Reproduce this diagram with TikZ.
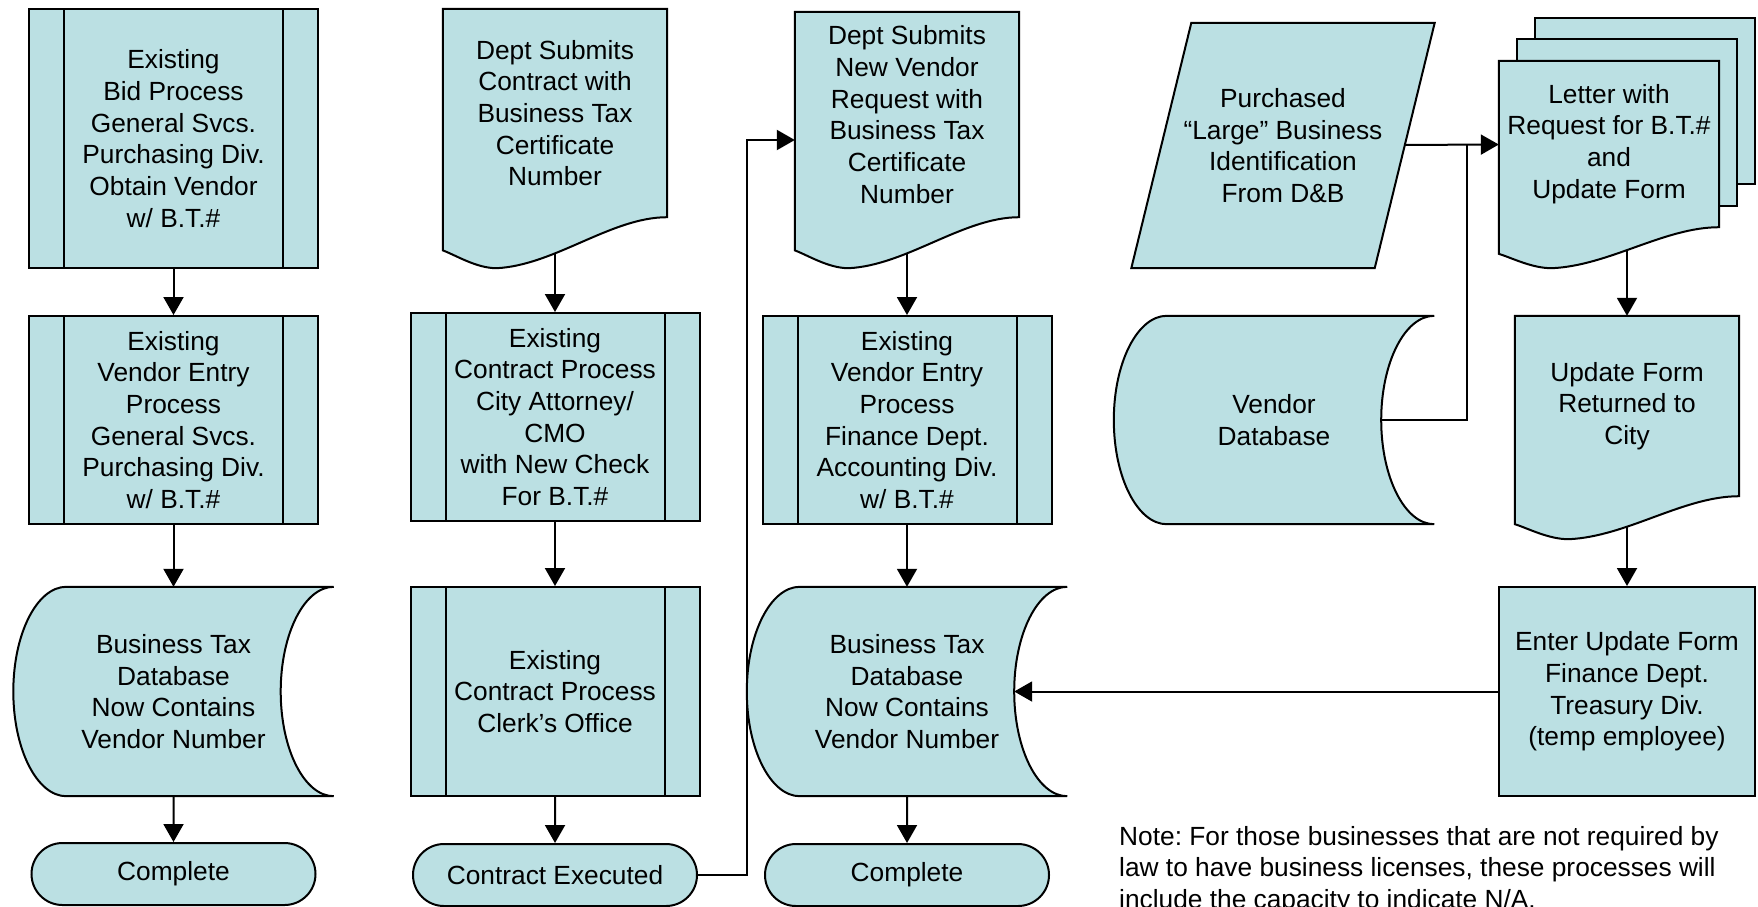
\documentclass[tikz,border=0pt]{standalone}
\usepackage{fontspec}
\setmainfont{Liberation Sans}
\usetikzlibrary{calc,shapes.misc,arrows.meta}
\definecolor{flowfill}{RGB}{187,224,227}
\pgfdeclarelayer{wires}
\pgfdeclarelayer{shapes}
\pgfsetlayers{wires,shapes,main}

\begin{document}
\begin{tikzpicture}[x=1pt,y=-1pt,>={Triangle[width=20pt,length=18pt]}]
    \tikzstyle{every node}=[font=\fontsize{26.3}{31.7}\selectfont,align=center,inner sep=2]
    \tikzstyle{ghost}=[rectangle,draw=none,fill=none]
    \tikzstyle{doc}=[ghost,minimum width=224]
    \tikzstyle{store}=[ghost,minimum width=214]
    \tikzstyle{plain}=[rectangle,draw,fill=flowfill,line width=2pt,minimum width=256,minimum height=209]
    \tikzstyle{term}=[rounded rectangle,draw,fill=flowfill,line width=2pt,minimum width=288,minimum height=62]
    \tikzstyle{proc}=[rectangle,draw,fill=flowfill,line width=2pt,minimum width=289,minimum height=208,
        path picture={\draw[line width=2pt]
            ([xshift=35pt]path picture bounding box.north west) -- ([xshift=35pt]path picture bounding box.south west)
            ([xshift=-35pt]path picture bounding box.north east) -- ([xshift=-35pt]path picture bounding box.south east);}]
    \tikzstyle{note}=[ghost,align=left,inner sep=0,font=\fontsize{26.3}{31.7}\selectfont\frenchspacing]
    \tikzstyle{outline}=[draw,fill=flowfill,line width=2pt]
    \tikzstyle{wire}=[->,line width=2pt]

    \useasboundingbox (0,0) rectangle (1758,906);

    \node[proc,minimum height=259] (bid) at (173.5,138.5) {Existing\\Bid Process\\General Svcs.\\Purchasing Div.\\Obtain Vendor\\w/ B.T.\#};
    \node[proc] (gsentry) at (173.5,420) {Existing\\Vendor Entry\\Process\\General Svcs.\\Purchasing Div.\\w/ B.T.\#};
    \node[store,minimum height=209] (taxdb1) at (173.5,691.5) {Business Tax\\Database\\Now Contains\\Vendor Number};
    \node[term] (done1) at (173.5,874) {Complete};

    \node[doc,minimum height=208] (contract) at (555,113) {Dept Submits\\Contract with\\Business Tax\\Certificate\\Number};
    \node[proc] (attorney) at (555,417) {Existing\\Contract Process\\City Attorney/\\CMO\\with New Check\\For B.T.\#};
    \node[proc,minimum height=209] (clerk) at (555,691.5) {Existing\\Contract Process\\Clerk's Office};
    \node[term] (executed) at (555,875) {Contract Executed};

    \node[doc,minimum height=205] (request) at (907,114.5) {Dept Submits\\New Vendor\\Request with\\Business Tax\\Certificate\\Number};
    \node[proc] (faentry) at (907,420) {Existing\\Vendor Entry\\Process\\Finance Dept.\\Accounting Div.\\w/ B.T.\#};
    \node[store,minimum height=209] (taxdb2) at (907,691.5) {Business Tax\\Database\\Now Contains\\Vendor Number};
    \node[term] (done2) at (907,875) {Complete};

    \node[ghost,minimum width=243,minimum height=245] (dnb) at (1283,145.5) {Purchased\\“Large” Business\\Identification\\From D\&B};
    \node[doc,minimum width=220,minimum height=166] (letter) at (1609,144) {Letter with\\Request for B.T.\#\\and\\Update Form};
    \node[store,minimum height=208] (vendordb) at (1274,420) {Vendor\\Database};
    \node[doc,minimum height=180] (returned) at (1627,406) {Update Form\\Returned to\\City};
    \node[plain] (treasury) at (1627,691.5) {Enter Update Form\\Finance Dept.\\Treasury Div.\\(temp employee)};

    \node[note,anchor=north west] (remark) at (1119,826) {Note: For those businesses that are not required by\\law to have business licenses, these processes will\\include the capacity to indicate N/A.};

    \coordinate (merge) at ($(dnb.east)!0.66!(letter.west)$);
    \coordinate (riser) at (747,140);

    \begin{pgfonlayer}{shapes}
        % stored data
        \foreach \nm in {taxdb1,taxdb2,vendordb}
            \draw[outline] let \p1=($(\nm.north)-(\nm.south)$) in
                (\nm.north west) -- ($(\nm.north east)+(53,0)$)
                arc[start angle=90,end angle=270,x radius=53pt,y radius=0.5*\y1]
                -- (\nm.south west)
                arc[start angle=270,end angle=90,x radius=53pt,y radius=0.5*\y1] -- cycle;
        % data input
        \draw[outline] ($(dnb.north west)+(30,0)$) -- ($(dnb.north east)+(30,0)$)
            -- ($(dnb.south east)+(-30,0)$) -- ($(dnb.south west)+(-30,0)$) -- cycle;
        % sheets behind the letter
        \foreach \s in {2,1}
            \draw[outline] ($(letter.north west)+(18*\s,-21.5*\s)$) rectangle ($(letter.south east)+(18*\s,-21.5*\s)$);
        % documents
        \foreach \nm/\dep in {contract/51,request/51,letter/41,returned/43}
            \draw[outline] (\nm.north west) -- (\nm.north east) -- (\nm.south east)
                .. controls ($(\nm.south west)!0.75!(\nm.south east)$) and ($(\nm.south west)!0.5!(\nm.south east)+(0,0.94*\dep)$)
                .. ($(\nm.south west)!0.24!(\nm.south east)+(0,\dep)$)
                .. controls ($(\nm.south west)!0.15!(\nm.south east)+(0,\dep)$) and ($(\nm.south west)!0.06!(\nm.south east)+(0,0.75*\dep)$)
                .. ($(\nm.south west)+(0,0.65*\dep)$) -- cycle;
    \end{pgfonlayer}

    \begin{pgfonlayer}{wires}
        \path[wire]
            (bid) edge (gsentry) (gsentry) edge (taxdb1) (taxdb1) edge (done1)
            (contract) edge (attorney) (attorney) edge (clerk) (clerk) edge (executed)
            (request) edge (faentry) (faentry) edge (taxdb2) (taxdb2) edge (done2)
            (dnb) edge (letter) (returned) edge (treasury) (treasury) edge (taxdb2);
        \draw[wire] (letter.south -| returned.north) -- (returned.north);
        \draw[line width=2pt] (vendordb.east) -| (merge);
        \draw[wire] (executed.east) -| (riser) -- (riser -| request.west);
    \end{pgfonlayer}
\end{tikzpicture}
\end{document}
